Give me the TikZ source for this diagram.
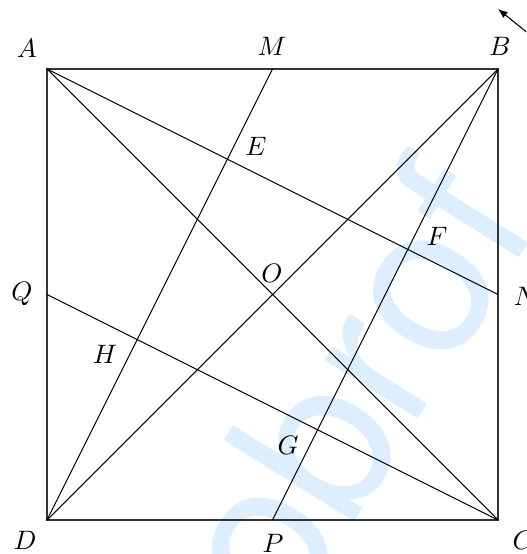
\documentclass[tikz,border=0pt]{standalone}
\usepackage{fontspec}
\newfontfamily\wmfont{TeX Gyre Heros}
\usetikzlibrary{arrows.meta}
\definecolor{wmblue}{RGB}{221,238,254}
\begin{document}
\begin{tikzpicture}[x=0.375pt,y=-0.375pt,
  lbl/.style={inner sep=0pt},
  side/.style={line width=0.5pt, draw=black!80},
  seg/.style={line width=0.4pt, draw=black},
  wm/.style={inner sep=0pt, anchor=base west, rotate=58, text=wmblue,
    font=\wmfont\fontsize{79}{79}\selectfont}]
\useasboundingbox (0,0) rectangle (526,554);
\clip (0,0) rectangle (526,554);
% watermark
\node[wm] (wm) at (286,631) {obrof};
% points
\coordinate (A) at (47,69);
\coordinate (B) at (498,69);
\coordinate (C) at (498,520);
\coordinate (D) at (47,520);
\coordinate (M) at (272.5,69);
\coordinate (N) at (498,294.5);
\coordinate (P) at (272.5,520);
\coordinate (Q) at (47,294.5);
% square
\draw[side] (A) -- (B) -- (C) -- (D) -- cycle;
% diagonals
\draw[seg] (A) -- (C);
\draw[seg] (B) -- (D);
% other lines
\draw[seg] (A) -- (N);
\draw[seg] (B) -- (P);
\draw[seg] (C) -- (Q);
\draw[seg] (D) -- (M);
% arrow at top right
\coordinate (arrS) at (545,47);
\coordinate (arrE) at (498,9);
\draw[seg, -{Latex[length=3.6pt,width=2.8pt]}] (arrS) -- (arrE);
% labels
\node[lbl] (lA) at (27,48) {$A$};
\node[lbl] (lB) at (500,46) {$B$};
\node[lbl] (lM) at (272,46) {$M$};
\node[lbl] (lC) at (523,540) {$C$};
\node[lbl] (lD) at (25,540) {$D$};
\node[lbl] (lP) at (273,543) {$P$};
\node[lbl] (lQ) at (22,294) {$Q$};
\node[lbl] (lN) at (526,296) {$N$};
\node[lbl] (lE) at (256,146) {$E$};
\node[lbl] (lF) at (437,236) {$F$};
\node[lbl] (lO) at (272,273) {$O$};
\node[lbl] (lH) at (105,354) {$H$};
\node[lbl] (lG) at (288,445) {$G$};
\end{tikzpicture}
\end{document}
